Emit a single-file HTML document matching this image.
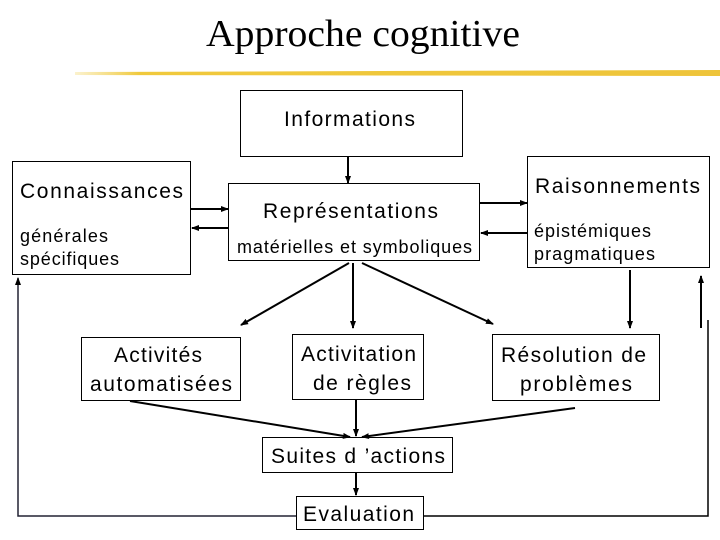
<!DOCTYPE html>
<html><head><meta charset="utf-8"><style>
html,body{margin:0;padding:0;background:#fff;}
svg{display:block;}
text{font-family:"Liberation Sans",sans-serif;fill:#000;}
</style></head><body>
<svg width="720" height="540" viewBox="0 0 720 540" xmlns="http://www.w3.org/2000/svg">
<defs>
<marker id="a" markerWidth="8" markerHeight="8" refX="7" refY="4" orient="auto" markerUnits="userSpaceOnUse">
<path d="M0,1 L8,4 L0,7 z" fill="#000"/></marker>
<linearGradient id="g" x1="0" x2="1"><stop offset="0" stop-color="#f2d35a" stop-opacity="0.3"/><stop offset="0.1" stop-color="#f0c93c"/><stop offset="1" stop-color="#eec43a"/></linearGradient>
</defs>
<text x="206" y="46" textLength="314" lengthAdjust="spacingAndGlyphs" style="font-family:'Liberation Serif',serif;font-size:38px">Approche cognitive</text>
<path d="M75,72 L720,70 L720,76 L75,75 z" fill="url(#g)"/>
<g fill="#fff" stroke="#000" stroke-width="1">
<rect x="240.5" y="90.5" width="222" height="66"/>
<rect x="12.5" y="161.5" width="178" height="113"/>
<rect x="228.5" y="183.5" width="251" height="77"/>
<rect x="527.5" y="156.5" width="182" height="111"/>
<rect x="81.5" y="337.5" width="159" height="63"/>
<rect x="292.5" y="334.5" width="131" height="65"/>
<rect x="492.5" y="334.5" width="167" height="66"/>
<rect x="262.5" y="437.5" width="190" height="35"/>
<rect x="296.5" y="496.5" width="127" height="33"/>
</g>
<g font-size="21" lengthAdjust="spacingAndGlyphs">
<text x="284" y="126" textLength="131">Informations</text>
<text x="20" y="198" textLength="163">Connaissances</text>
<text x="20" y="242" font-size="18" textLength="88">générales</text>
<text x="20" y="265" font-size="18" textLength="99">spécifiques</text>
<text x="263" y="218" textLength="175">Représentations</text>
<text x="237" y="253" font-size="18" textLength="235">matérielles et symboliques</text>
<text x="535" y="193" textLength="165">Raisonnements</text>
<text x="534" y="237" font-size="18" textLength="117">épistémiques</text>
<text x="534" y="260" font-size="18" textLength="121">pragmatiques</text>
<text x="114" y="362" textLength="88">Activités</text>
<text x="90" y="391" textLength="142">automatisées</text>
<text x="301" y="361" textLength="115">Activitation</text>
<text x="313" y="390" textLength="98">de règles</text>
<text x="501" y="362" textLength="145">Résolution de</text>
<text x="520" y="391" textLength="112">problèmes</text>
<text x="271" y="463" textLength="174">Suites d ’actions</text>
<text x="303" y="521" textLength="111">Evaluation</text>
</g>
<g stroke="#000" stroke-width="2" fill="none" marker-end="url(#a)">
<line x1="348" y1="157" x2="348" y2="183"/>
<line x1="191" y1="209" x2="228" y2="209"/>
<line x1="228" y1="228" x2="192" y2="228"/>
<line x1="480" y1="203" x2="527" y2="203"/>
<line x1="527" y1="233" x2="481" y2="233"/>
<line x1="349" y1="263" x2="241" y2="325"/>
<line x1="353" y1="263" x2="353" y2="328"/>
<line x1="362" y1="263" x2="493" y2="324"/>
<line x1="630" y1="270" x2="630" y2="328"/>
<line x1="130" y1="401" x2="350" y2="437"/>
<line x1="356" y1="400" x2="356" y2="436"/>
<line x1="575" y1="408" x2="362" y2="437"/>
<line x1="356" y1="473" x2="356" y2="495"/>
</g>
<g stroke-width="1.5" fill="none">
<polyline points="296,516 18,516 18,278" stroke="#223" marker-end="url(#a)"/>
<polyline points="424,516 708,516 708,320" stroke="#000"/>
<line x1="701" y1="328" x2="701" y2="276" stroke="#000" stroke-width="2" marker-end="url(#a)"/>
</g>
</svg>
</body></html>
